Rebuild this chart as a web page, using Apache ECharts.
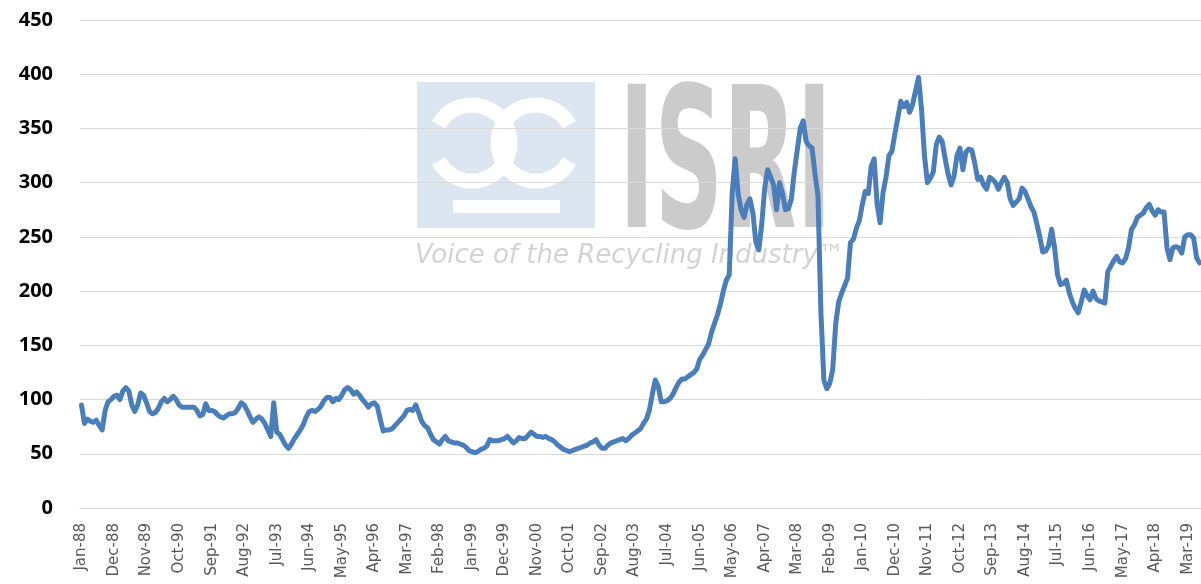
<!DOCTYPE html>
<html>
<head>
<meta charset="utf-8">
<script src="https://cdn.jsdelivr.net/npm/echarts@6/dist/echarts.min.js"></script>
<style>
  html, body { margin: 0; padding: 0; background: #fff; }
  #chart { width: 1201px; height: 584px; }
</style>
</head>
<body>
<div id="chart"></div>
<script>
// monthly index values, Jan-88 .. Jul-19
const v1988 = [95, 78, 82, 80, 79, 81, 76, 72, 90, 98, 100, 103]
const v1989 = [104, 100, 108, 111, 108, 95, 89, 95, 106, 104, 97, 89]
const v1990 = [87, 88, 92, 98, 101, 98, 100, 103, 100, 95, 93, 93]
const v1991 = [93, 93, 93, 90, 85, 86, 96, 90, 90, 89, 86, 84]
const v1992 = [83, 85, 87, 87, 88, 92, 97, 95, 90, 84, 79, 82]
const v1993 = [84, 82, 78, 72, 66, 97, 70, 68, 63, 58, 55, 59]
const v1994 = [64, 68, 72, 77, 84, 89, 90, 89, 91, 94, 99, 102]
const v1995 = [102, 98, 101, 100, 104, 109, 111, 109, 105, 107, 104, 100]
const v1996 = [97, 93, 96, 97, 94, 82, 71, 72, 72, 73, 76, 79]
const v1997 = [82, 85, 90, 91, 90, 95, 88, 80, 76, 74, 68, 63]
const v1998 = [61, 59, 63, 66, 62, 61, 60, 60, 59, 58, 56, 53]
const v1999 = [52, 51, 52, 54, 55, 57, 63, 62, 62, 62, 63, 64]
const v2000 = [66, 63, 60, 62, 65, 64, 64, 67, 70, 68, 66, 66]
const v2001 = [65, 66, 64, 63, 61, 58, 56, 54, 53, 52, 53, 54]
const v2002 = [55, 56, 57, 58, 60, 61, 63, 58, 55, 55, 58, 60]
const v2003 = [61, 62, 63, 64, 62, 64, 67, 69, 71, 73, 78, 82]
const v2004 = [90, 105, 118, 112, 98, 98, 99, 101, 105, 111, 116, 119]
const v2005 = [119, 121, 123, 125, 128, 137, 141, 146, 151, 162, 170, 178]
const v2006 = [188, 200, 210, 215, 290, 322, 290, 275, 268, 280, 285, 272]
const v2007 = [245, 238, 262, 295, 312, 305, 298, 275, 300, 290, 275, 276]
const v2008 = [285, 310, 330, 350, 357, 338, 334, 332, 308, 288, 180, 118]
const v2009 = [110, 115, 128, 170, 190, 198, 205, 212, 245, 248, 258, 265]
const v2010 = [280, 292, 290, 315, 322, 280, 263, 291, 305, 325, 329, 345]
const v2011 = [360, 375, 370, 374, 365, 372, 385, 397, 368, 325, 300, 304]
const v2012 = [310, 335, 342, 338, 322, 308, 298, 306, 325, 332, 312, 328]
const v2013 = [331, 330, 318, 303, 305, 298, 294, 305, 303, 300, 294, 300]
const v2014 = [305, 300, 285, 279, 282, 285, 295, 292, 285, 278, 273, 262]
const v2015 = [250, 236, 237, 242, 257, 240, 215, 206, 207, 210, 198, 190]
const v2016 = [184, 180, 190, 201, 196, 192, 200, 193, 191, 190, 189, 218]
const v2017 = [223, 228, 232, 227, 226, 230, 240, 257, 261, 268, 270, 272]
const v2018 = [277, 280, 274, 270, 275, 273, 273, 240, 229, 240, 241, 240]
const v2019 = [235, 250, 252, 252, 249, 231, 226]

const monthNames = ['Jan', 'Feb', 'Mar', 'Apr', 'May', 'Jun', 'Jul', 'Aug', 'Sep', 'Oct', 'Nov', 'Dec']
const yearValues = [v1988, v1989, v1990, v1991, v1992, v1993, v1994, v1995, v1996, v1997, v1998,
  v1999, v2000, v2001, v2002, v2003, v2004, v2005, v2006, v2007, v2008, v2009, v2010,
  v2011, v2012, v2013, v2014, v2015, v2016, v2017, v2018, v2019]
const firstYear = 1988
const yTicks = [0, 50, 100, 150, 200, 250, 300, 350, 400, 450]

let categories = []
let values = []
yearValues.forEach((arr, k) => {
  const yy = String(firstYear + k).slice(2)
  arr.forEach((v, m) => {
    categories.push(monthNames[m] + '-' + yy)
    values.push(v)
  })
})

const chart = echarts.init(document.getElementById('chart'))

const option = {
  animation: false,
  backgroundColor: '#fff',
  grid: { left: 80, right: 0, top: 20, bottom: 76 },
  // ISRI watermark, drawn behind the grid lines
  graphic: [
    {
      type: 'group', z: -10, silent: true,
      children: [
        { type: 'rect', shape: { x: 417, y: 82, width: 178, height: 146 }, style: { fill: '#dce6f1' } },
        {
          type: 'arc',
          shape: { cx: 472, cy: 143, r: 38, startAngle: Math.PI + 0.5, endAngle: Math.PI - 0.5 + 2 * Math.PI, clockwise: true },
          style: { stroke: '#fff', lineWidth: 15, fill: null }
        },
        {
          type: 'arc',
          shape: { cx: 536, cy: 143, r: 38, startAngle: 0.5, endAngle: 2 * Math.PI - 0.5, clockwise: true },
          style: { stroke: '#fff', lineWidth: 15, fill: null }
        },
        { type: 'rect', shape: { x: 453, y: 200, width: 107, height: 13 }, style: { fill: '#fff' } },
        {
          type: 'text', x: 619, y: 78, scaleX: 0.53, scaleY: 0.98,
          style: { text: 'ISRI', fill: '#cbcbcb', font: 'bold 200px "DejaVu Sans Condensed"', textAlign: 'left', textVerticalAlign: 'top' }
        },
        {
          type: 'text', x: 415, y: 243,
          style: { text: 'Voice of the Recycling Industry\u2122', fill: '#d3d3d3', font: 'italic 26px "DejaVu Sans"', textAlign: 'left', textVerticalAlign: 'top' }
        }
      ]
    }
  ],
  xAxis: {
    type: 'category',
    data: categories,
    boundaryGap: true,
    axisLine: { show: true, lineStyle: { color: '#d9d9d9', width: 1 } },
    axisTick: { show: false },
    axisLabel: {
      interval: (idx) => idx % 11 === 0,
      rotate: 90,
      margin: 15,
      color: '#595959',
      fontSize: 15,
      fontFamily: 'DejaVu Sans'
    },
    splitLine: { show: false }
  },
  yAxis: {
    type: 'value',
    min: yTicks[0],
    max: yTicks[yTicks.length - 1],
    interval: 50,
    axisLine: { show: false },
    axisTick: { show: false },
    axisLabel: {
      margin: 27,
      color: '#000',
      fontSize: 20,
      fontWeight: 'bold',
      fontFamily: 'Open Sans'
    },
    splitLine: { lineStyle: { color: '#d9d9d9', width: 1 } }
  },
  series: [
    {
      type: 'line',
      data: values,
      symbol: 'none',
      smooth: false,
      z: 5,
      lineStyle: { color: '#4a7ebb', width: 5, cap: 'round', join: 'round' }
    }
  ]
}

chart.setOption(option)
</script>
</body>
</html>
